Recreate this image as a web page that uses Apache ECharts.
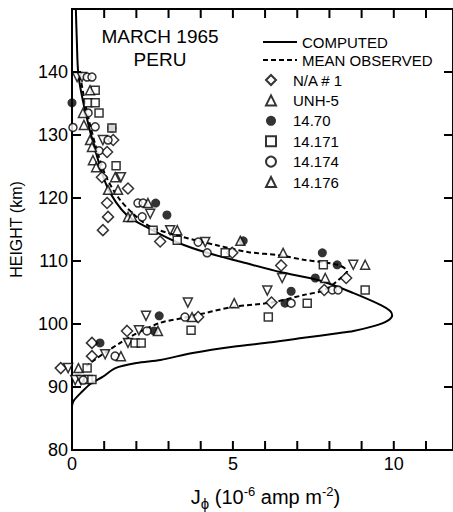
<!DOCTYPE html>
<html>
<head>
<meta charset="utf-8">
<script src="https://cdn.jsdelivr.net/npm/echarts@6/dist/echarts.min.js"></script>
<style>
  html, body { margin: 0; padding: 0; background: #fff; }
  #chart { width: 453px; height: 512px; }
</style>
</head>
<body>
<div id="chart"></div>
<script>
// [J (10^-6 amp m^-2), height km]
const computed = [
  [0.12, 150], [0.15, 145], [0.2, 139.5], [0.4, 134], [0.7, 128], [1.1, 121.7],
  [1.7, 117.3], [2.5, 114.9], [3.3, 112.9], [4.2, 111.3], [5.3, 109.8], [6.5, 108.2],
  [7.7, 106.9], [8.75, 104.9], [9.6, 103], [9.88, 102.1], [9.95, 101.4], [9.8, 100.5],
  [9.4, 99.7], [8.75, 98.9], [8.2, 98.5], [7.2, 97.8], [6.2, 97.1], [5, 96.4],
  [3.75, 95.4], [2.75, 94.3], [2, 93.8], [1.35, 93], [0.95, 91.6], [0.6, 90.6],
  [0.3, 89.2], [0.05, 87.8], [0, 87]
]
const meanObserved = [
  [0.25, 139.5], [0.45, 134], [0.75, 128], [1.05, 123.5], [1.45, 120], [1.9, 117.5],
  [2.45, 115.4], [3.45, 113.8], [4.5, 112.5], [5.5, 111.4], [6.45, 110.9], [7.2, 110.2],
  [8.25, 109.4], [8.55, 108.4], [8.4, 107.5], [7.85, 105.4], [7.2, 104.6], [6.2, 103.4],
  [5, 102.7], [3.6, 101.1], [2.75, 100.2], [2, 98.5], [1.5, 97], [1.1, 95.7],
  [0.7, 94.3], [0.45, 93.3]
]
const na1 = [
  [1.28, 129.2], [1.09, 127.3], [0.93, 123.3], [1.74, 121.5], [1.09, 119.2], [1.12, 117],
  [0.96, 114.9], [2.74, 113.1], [4.98, 111.3], [6.5, 109.3], [8.52, 107.3], [7.84, 105.4],
  [6.2, 103.4], [3.92, 101.1], [1.71, 98.9], [0.62, 97], [0.62, 94.9], [-0.35, 93]
]
const unh5 = [
  [0.16, 139.2], [0.31, 139.2], [0.96, 129.2], [1.52, 123.3], [2.43, 117.5], [3.05, 114.9],
  [4.14, 113], [8.74, 109.4], [6.53, 107.3], [6.07, 105.3], [3.6, 103.4], [2.3, 101.3],
  [2.08, 99], [1.74, 97], [1.03, 95.2], [-0.12, 93], [0.1, 91.1], [0.28, 91.1]
]
const r1470 = [
  [0, 135.1], [1.24, 131.1], [2.6, 119.2], [2.95, 117.3], [5.32, 113.2], [7.78, 111.3],
  [8.24, 109.4], [7.56, 107.3], [6.81, 105.2], [6.62, 103.3], [2.71, 101.3], [2.55, 98.9],
  [0.87, 97]
]
const r14171 = [
  [0.72, 137.1], [0.5, 135.1], [0.72, 135.1], [0.84, 133.5], [1.24, 131.1], [1.37, 125.1],
  [2.52, 114.9], [3.27, 113.3], [4.76, 111.3], [7.81, 109.4], [9.11, 105.4], [7.31, 103.3],
  [6.1, 101.1], [3.7, 99], [1.96, 97], [2.15, 97], [0.47, 93], [0.5, 91.2], [0.62, 91.2]
]
const r14174 = [
  [0.47, 139.2], [0.62, 139.2], [0.5, 133.5], [0.03, 131.2], [0.72, 131.3], [1.12, 129.2],
  [0.84, 127.5], [0.93, 125.1], [2.05, 119.2], [2.21, 119.2], [2.18, 117], [3.92, 113],
  [4.2, 111.3], [8.09, 105.4], [8.27, 105.4], [6.81, 103.3], [3.51, 101.1], [2.33, 98.9],
  [1.34, 94.9], [0.35, 91.1]
]
const r14176 = [
  [0.56, 137.1], [0.34, 133.5], [0.37, 131.6], [0.56, 129.2], [0.62, 128.1], [0.65, 126],
  [0.75, 124.9], [1.34, 123.3], [1.12, 121.3], [1.43, 121.3], [2.36, 119.2], [1.74, 117],
  [1.87, 117], [3.27, 114.9], [5.23, 113.2], [6.56, 111.3], [9.11, 109.4], [7.87, 107.3],
  [5.04, 103.3], [3.73, 101.1], [2.67, 98.9], [1.52, 94.9], [0.2, 93]
]
const xTickLabels = [0, 5, 10]
const yTickLabels = [80, 90, 100, 110, 120, 130, 140]
const xTicks = [1, 2, 3, 4, 5, 6, 7, 8, 9, 10, 11]
const yTicks = [90, 100, 110, 120, 130, 140]

const font = 'Liberation Sans'
// the original frame is cut by the page edge just short of 12
const X_MIN = 0, X_MAX = 11.84, Y_MIN = 80, Y_MAX = 150
const chart = echarts.init(document.getElementById('chart'), null, { renderer: 'svg' })

function markers(name, data, symbol, size, filled, rotate) {
  return {
    name: name,
    type: 'scatter',
    data: data,
    symbol: symbol,
    symbolSize: size,
    symbolRotate: rotate || 0,
    clip: false,
    z: 5,
    itemStyle: filled
      ? { color: '#000' }
      : { color: '#fff', borderColor: '#000', borderWidth: 1.5 },
    emphasis: { disabled: true }
  }
}

const axisLine = { show: true, onZero: false, lineStyle: { color: '#000', width: 2 } }

chart.setOption({
  animation: false,
  backgroundColor: '#fff',
  textStyle: { fontFamily: font, color: '#000' },
  grid: {
    left: 72, top: 9, right: 0, bottom: 62,
    outerBoundsMode: 'none',
    show: true,
    borderColor: '#000',
    borderWidth: 2,
    backgroundColor: 'transparent'
  },
  legend: {
    orient: 'vertical',
    left: 260,
    top: 67,
    itemWidth: 10,
    itemHeight: 10,
    itemGap: 4.4,
    textStyle: { fontSize: 15, lineHeight: 16, fontFamily: font, color: '#000', padding: [0, 0, 0, 12] },
    data: [
      'N/A # 1',
      { name: 'UNH-5', symbolRotate: 180 },
      '14.70', '14.171', '14.174', '14.176'
    ]
  },
  xAxis: {
    type: 'value',
    min: X_MIN,
    max: X_MAX,
    interval: 1,
    name: '{j|J}{s|ϕ} (10{p|-6} amp m{p|-2})',
    nameLocation: 'middle',
    nameGap: 33,
    nameTextStyle: {
      fontSize: 20,
      fontFamily: font,
      color: '#000',
      padding: [0, 0, 0, 6],
      rich: {
        j: { fontSize: 20, fontFamily: font },
        s: { fontSize: 15, fontFamily: font, padding: [13, 0, 0, 0] },
        p: { fontSize: 13, fontFamily: font, padding: [0, 0, 11, 0] }
      }
    },
    axisLine: axisLine,
    axisTick: { show: false },
    splitLine: { show: false },
    axisLabel: {
      fontSize: 18,
      color: '#000',
      margin: 5,
      showMaxLabel: false,
      formatter: v => (xTickLabels.includes(v) ? String(v) : '')
    }
  },
  yAxis: {
    type: 'value',
    min: Y_MIN,
    max: Y_MAX,
    interval: 10,
    name: 'HEIGHT (km)',
    nameLocation: 'middle',
    nameGap: 48,
    nameTextStyle: { fontSize: 16, fontFamily: font, color: '#000' },
    axisLine: axisLine,
    axisTick: { show: false },
    splitLine: { show: false },
    axisLabel: {
      fontSize: 18,
      color: '#000',
      margin: 4,
      formatter: v => (yTickLabels.includes(v) ? String(v) : '')
    }
  },
  series: [{
    name: 'COMPUTED',
    type: 'line',
    data: computed,
    symbol: 'none',
    smooth: 0.3,
    z: 3,
    lineStyle: { color: '#000', width: 2 },
    itemStyle: { color: '#000' }
  }, {
    name: 'MEAN OBSERVED',
    type: 'line',
    data: meanObserved,
    symbol: 'none',
    smooth: 0.3,
    z: 3,
    lineStyle: { color: '#000', width: 2, type: [5, 3] },
    itemStyle: { color: '#000' }
  },
  markers('N/A # 1', na1, 'diamond', 11, false),
  markers('UNH-5', unh5, 'triangle', 9, false, 180),
  markers('14.70', r1470, 'circle', 9, true),
  markers('14.171', r14171, 'rect', 8, false),
  markers('14.174', r14174, 'circle', 8, false),
  markers('14.176', r14176, 'triangle', 9, false)
  ]
})

// frame and inward ticks, positioned through the series' own axes
function px(x, y) {
  return chart.convertToPixel({ seriesIndex: 0 }, [x, y])
}
function ok(p) {
  return p && isFinite(p[0]) && isFinite(p[1])
}
function seg(a, b, dash) {
  const style = { stroke: '#000', lineWidth: 2 }
  if (dash) style.lineDash = dash
  return {
    type: 'line',
    z: 10,
    shape: { x1: a[0], y1: a[1], x2: b[0], y2: b[1] },
    style: style
  }
}
const frame = []
const tl = px(X_MIN, Y_MAX), tr = px(X_MAX, Y_MAX), br = px(X_MAX, Y_MIN)
if (ok(tl) && ok(tr) && ok(br)) {
  frame.push(seg(tl, tr), seg(tr, br))
}
xTicks.forEach(v => {
  const t = px(v, Y_MAX)
  const b = px(v, Y_MIN)
  if (ok(t) && ok(b)) {
    frame.push(seg(t, [t[0], t[1] + 9]))
    frame.push(seg(b, [b[0], b[1] - 9]))
  }
})
yTicks.forEach(v => {
  const l = px(X_MIN, v)
  const r = px(X_MAX, v)
  if (ok(l) && ok(r)) {
    frame.push(seg(l, [l[0] + 9, l[1]]))
    frame.push(seg(r, [r[0] - 9, r[1]]))
  }
})

const labels = [{
  type: 'text',
  x: 160,
  y: 25,
  style: {
    text: 'MARCH 1965\nPERU',
    align: 'center',
    font: '19px "Liberation Sans"',
    lineHeight: 23,
    fill: '#000'
  }
},
seg([263, 42], [297, 42]),
seg([263, 60], [297, 60], [5, 3]),
{
  type: 'text',
  x: 302,
  y: 42,
  style: { text: 'COMPUTED', font: '15px "Liberation Sans"', fill: '#000', verticalAlign: 'middle' }
}, {
  type: 'text',
  x: 302,
  y: 60,
  style: { text: 'MEAN OBSERVED', font: '15px "Liberation Sans"', fill: '#000', verticalAlign: 'middle' }
}]

chart.setOption({ graphic: labels.concat(frame) })
</script>
</body>
</html>
